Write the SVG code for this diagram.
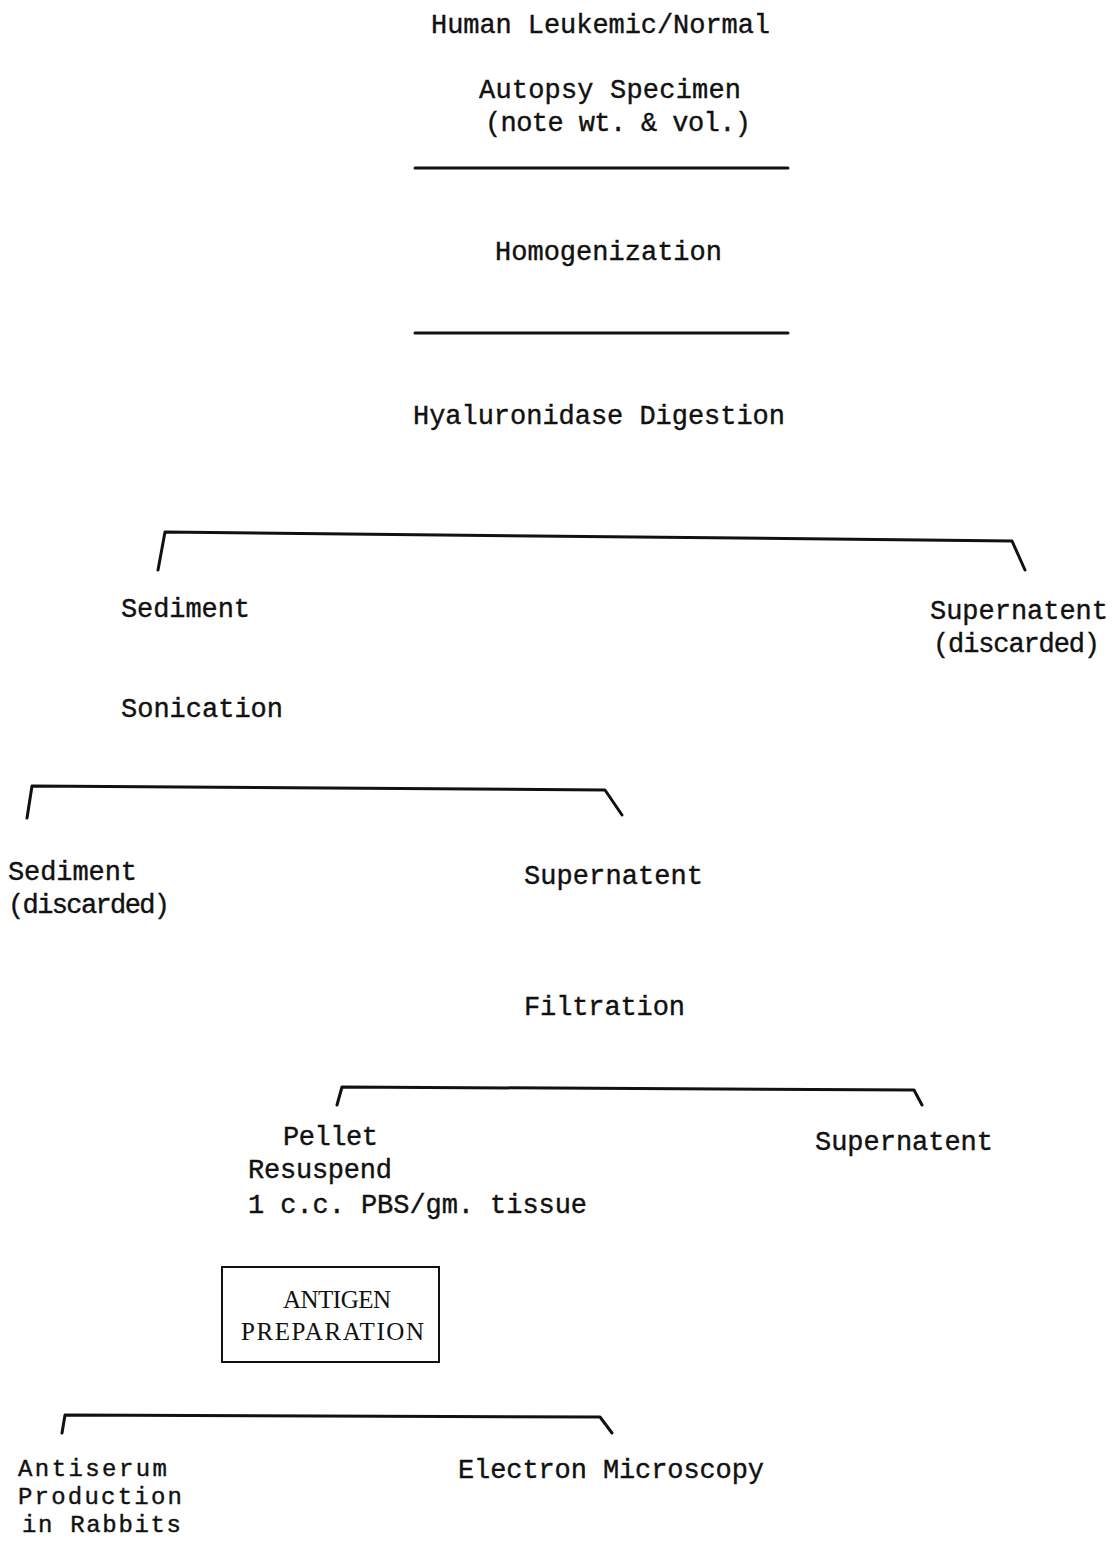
<svg xmlns="http://www.w3.org/2000/svg" width="1115" height="1541" viewBox="0 0 1115 1541">
<style>
.t{font-family:"Liberation Mono","DejaVu Sans Mono",monospace;font-size:27px;fill:#111;stroke:#111;stroke-width:0.4}
.b{font-size:24px}
.s{font-family:"Liberation Serif","DejaVu Serif",serif;font-size:25px;fill:#111}
.c{fill:none;stroke:#111;stroke-width:3;stroke-linejoin:round;stroke-linecap:round}
</style>
<rect width="1115" height="1541" fill="#fff"/>
<g id="connectors">
<line class="c" x1="415" y1="168" x2="788" y2="168"/>
<line class="c" x1="415" y1="333" x2="788" y2="333"/>
<polyline class="c" points="158,570 165,532 1012,541 1025,570"/>
<polyline class="c" points="27,818 32,786 605,790 622,815"/>
<polyline class="c" points="337,1105 342,1087 914,1090 922,1105"/>
<polyline class="c" points="62,1433 65,1415 600,1417 612,1433"/>
</g>
<g id="n-source"><text class="t" x="431" y="33" textLength="339">Human Leukemic/Normal</text>
<text class="t" x="479" y="98" textLength="262">Autopsy Specimen</text>
<text class="t" x="485" y="131" textLength="266">(note wt. &amp; vol.)</text></g>
<g id="n-homog"><text class="t" x="495" y="260" textLength="227">Homogenization</text></g>
<g id="n-hyal"><text class="t" x="413" y="424" textLength="372">Hyaluronidase Digestion</text></g>
<g id="n-sed1"><text class="t" x="121" y="617" textLength="129">Sediment</text></g>
<g id="n-sup1"><text class="t" x="930" y="619" textLength="178">Supernatent</text>
<text class="t" x="933" y="652" textLength="167">(discarded)</text></g>
<g id="n-sonic"><text class="t" x="121" y="717" textLength="162">Sonication</text></g>
<g id="n-sed2"><text class="t" x="8" y="880" textLength="129">Sediment</text>
<text class="t" x="8" y="913" textLength="162">(discarded)</text></g>
<g id="n-sup2"><text class="t" x="524" y="884" textLength="179">Supernatent</text></g>
<g id="n-filt"><text class="t" x="524" y="1015" textLength="161">Filtration</text></g>
<g id="n-pellet"><text class="t" x="283" y="1145" textLength="95">Pellet</text>
<text class="t" x="248" y="1178" textLength="144">Resuspend</text>
<text class="t" x="248" y="1213" textLength="339">1 c.c. PBS/gm. tissue</text></g>
<g id="n-sup3"><text class="t" x="815" y="1150" textLength="178">Supernatent</text></g>
<g id="n-antigen"><rect x="222" y="1267" width="217" height="95" fill="none" stroke="#111" stroke-width="2"/>
<text class="s" x="283" y="1308" textLength="108">ANTIGEN</text>
<text class="s" x="241" y="1340" textLength="183">PREPARATION</text></g>
<g id="n-antiserum"><text class="t b" x="18" y="1476" textLength="149">Antiserum</text>
<text class="t b" x="18" y="1504" textLength="164">Production</text>
<text class="t b" x="22" y="1532" textLength="159">in Rabbits</text></g>
<g id="n-em"><text class="t" x="458" y="1478" textLength="306">Electron Microscopy</text></g>
</svg>
